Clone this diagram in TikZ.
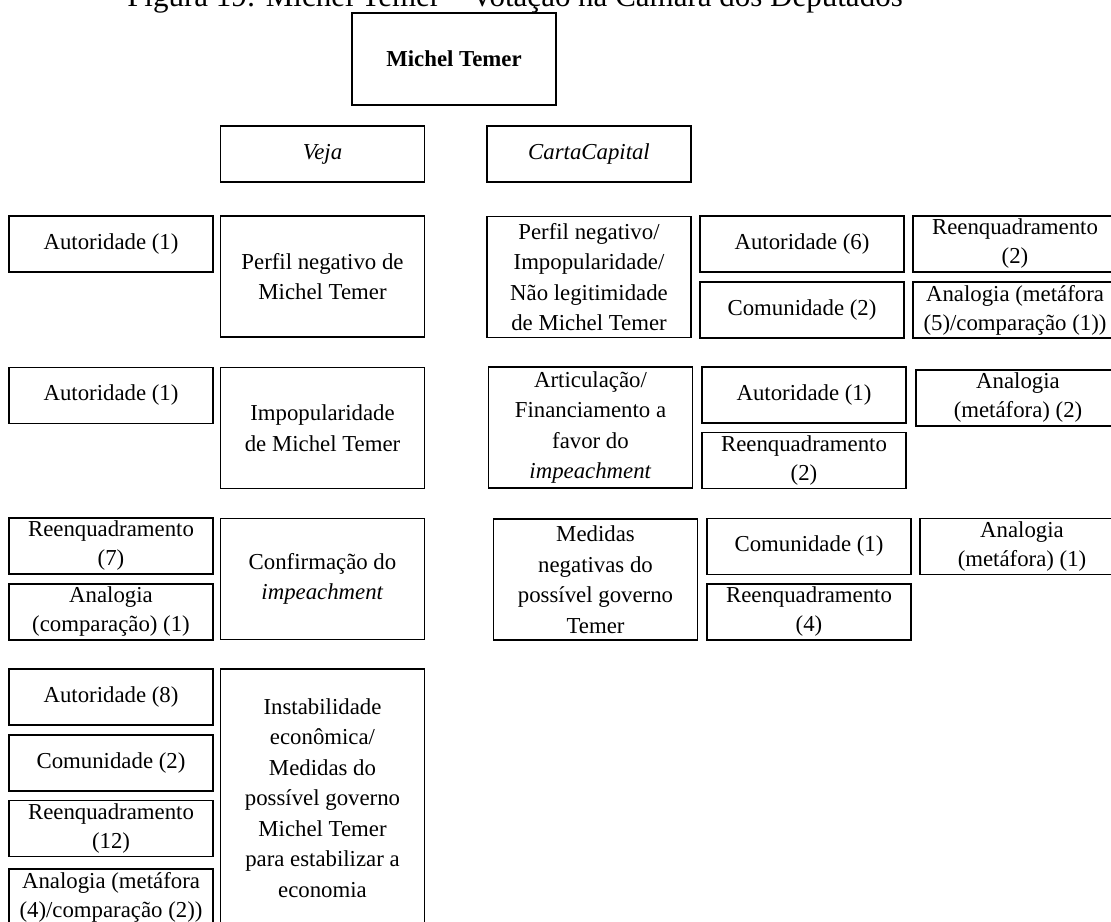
\documentclass[tikz,border=0pt]{standalone}
\usepackage{fontspec}
\setmainfont{Liberation Serif}

\newcommand{\boxfont}{\fontsize{22.8}{29}\selectfont}
\newcommand{\topicfont}{\fontsize{22.8}{30.5}\selectfont}

\begin{document}
\begin{tikzpicture}[x=1pt, y=-1pt,
  box/.style={draw, line width=1.5pt, inner sep=0pt, align=center,
    minimum width=204pt, font=\boxfont},
  smallbox/.style={box, minimum height=56pt},
  topicbox/.style={box, minimum height=121pt, font=\topicfont}]

  \useasboundingbox (0,0) rectangle (1111,921);
  \clip (0,0) rectangle (1111,921);

  \node[anchor=base, font=\fontsize{31}{36}\selectfont] (titulo) at (515,6.5)
    {Figura 19: Michel Temer -- Votação na Câmara dos Deputados};

  \node[box, minimum height=92pt, font=\bfseries\boxfont] (temer) at (454,59) {Michel Temer};
  \node[smallbox, font=\itshape\boxfont] (veja) at (322.5,154) {Veja};
  \node[smallbox, font=\itshape\boxfont] (carta) at (589,154) {CartaCapital};

  % Veja
  \node[smallbox] (veja-aut1) at (111,244) {Autoridade (1)};
  \node[topicbox] (veja-perfil) at (322.5,276.5) {Perfil negativo de\\Michel Temer};

  \node[smallbox] (veja-aut2) at (111,395.5) {Autoridade (1)};
  \node[topicbox] (veja-impop) at (322.5,428) {Impopularidade\\de Michel Temer};

  \node[smallbox] (veja-reenq7) at (111,546) {Reenquadramento\\(7)};
  \node[smallbox] (veja-comp1) at (111,612) {Analogia\\(comparação) (1)};
  \node[topicbox] (veja-impeach) at (322.5,579) {Confirmação do\\\textit{impeachment}};

  \node[smallbox] (veja-aut8) at (111,697) {Autoridade (8)};
  \node[smallbox] (veja-com2) at (111,763) {Comunidade (2)};
  \node[smallbox] (veja-reenq12) at (111,828.5) {Reenquadramento\\(12)};
  \node[smallbox] (veja-met4) at (111,897) {Analogia (metáfora\\(4)/comparação (2))};
  \node[box, minimum height=258pt, font=\topicfont] (veja-econ) at (322.5,798)
    {Instabilidade\\econômica/\\Medidas do\\possível governo\\Michel Temer\\para estabilizar a\\economia};

  % CartaCapital
  \node[topicbox] (carta-perfil) at (589,277)
    {Perfil negativo/\\Impopularidade/\\Não legitimidade\\de Michel Temer};
  \node[smallbox] (carta-aut6) at (802,244) {Autoridade (6)};
  \node[smallbox] (carta-com2) at (802,310) {Comunidade (2)};
  \node[smallbox] (carta-reenq2) at (1015,244) {Reenquadramento\\(2)};
  \node[smallbox] (carta-met5) at (1015,310) {Analogia (metáfora\\(5)/comparação (1))};

  \node[topicbox] (carta-artic) at (590.5,427.5)
    {Articulação/\\Financiamento a\\favor do\\\textit{impeachment}};
  \node[smallbox] (carta-aut1) at (804,395) {Autoridade (1)};
  \node[smallbox] (carta-reenq2b) at (804,460.5) {Reenquadramento\\(2)};
  \node[smallbox] (carta-met2) at (1018,398) {Analogia\\(metáfora) (2)};

  \node[topicbox] (carta-medidas) at (595.5,579.5)
    {Medidas\\negativas do\\possível governo\\Temer};
  \node[smallbox] (carta-com1) at (809,546.5) {Comunidade (1)};
  \node[smallbox] (carta-reenq4) at (809,612) {Reenquadramento\\(4)};
  \node[smallbox] (carta-met1) at (1022,546.5) {Analogia\\(metáfora) (1)};
\end{tikzpicture}
\end{document}
